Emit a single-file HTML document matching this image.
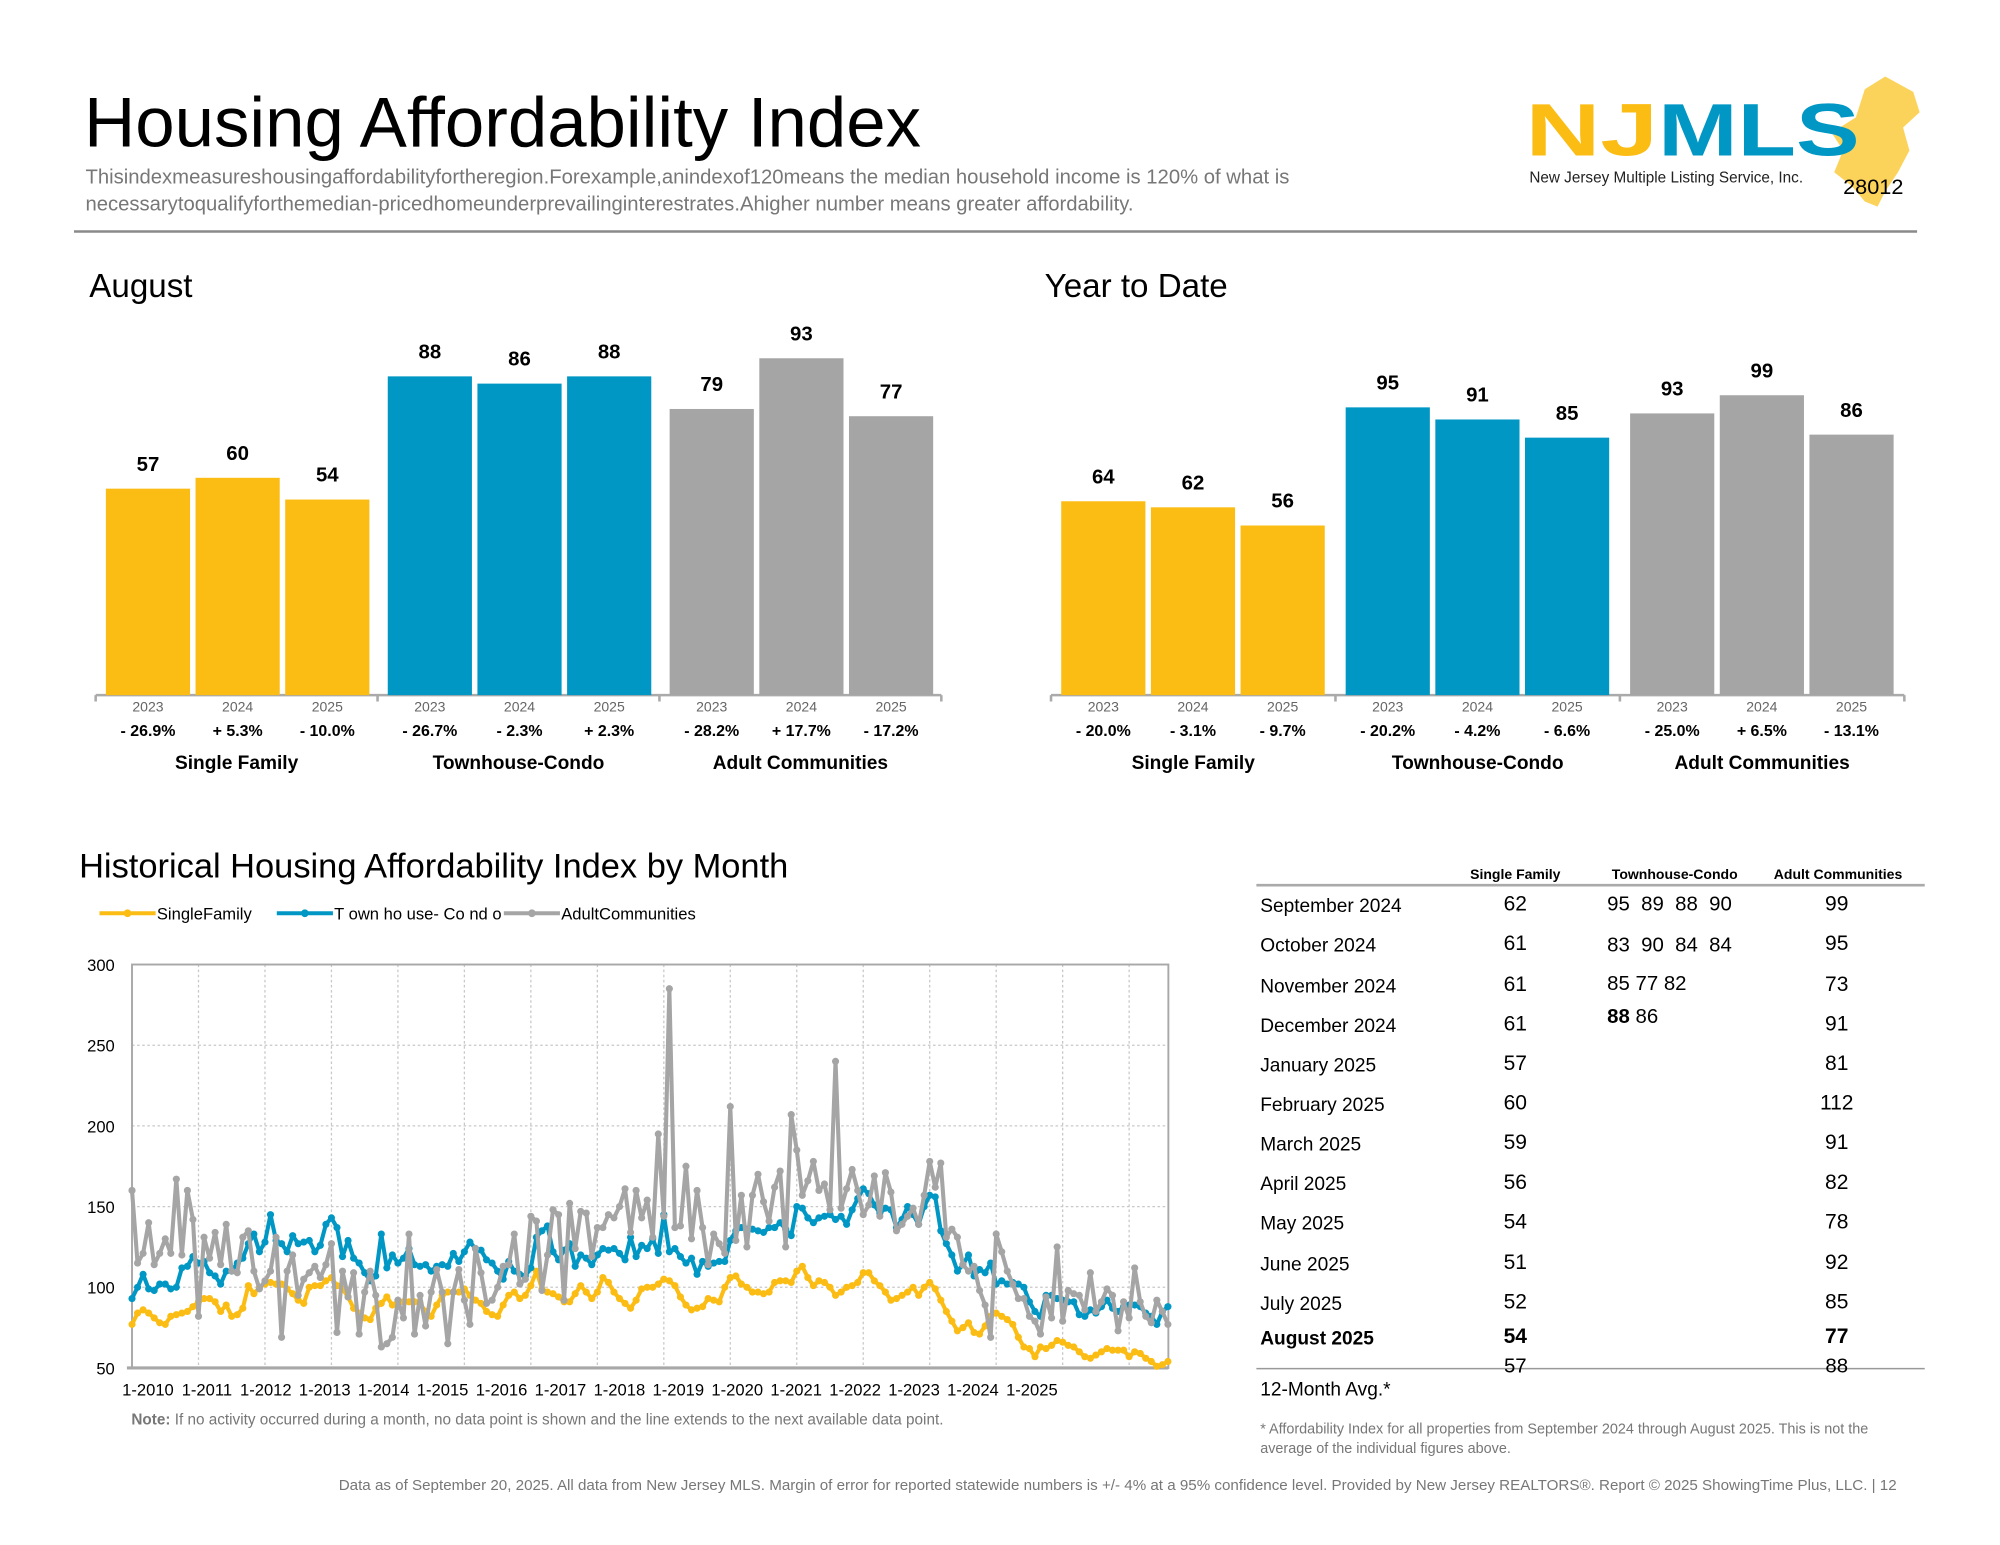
<!DOCTYPE html>
<html><head><meta charset="utf-8"><style>
html,body{margin:0;padding:0;background:#fff;}
svg{display:block;font-family:"Liberation Sans",Arial,sans-serif;}
.pre{white-space:pre;}
</style></head><body>
<svg id="root" width="2000" height="1545" viewBox="0 0 1568 1211.3" preserveAspectRatio="none" xmlns="http://www.w3.org/2000/svg">
<g>
<text x="66" y="115" font-size="55.5" fill="#000">Housing Affordability Index</text>
<text x="67" y="144" font-size="15.9" fill="#777">Thisindexmeasureshousingaffordabilityfortheregion.Forexample,anindexof120means the median household income is 120% of what is</text>
<text x="67" y="165" font-size="15.9" fill="#777">necessarytoqualifyforthemedian-pricedhomeunderprevailinginterestrates.Ahigher number means greater affordability.</text>
<line x1="58" y1="181.5" x2="1503" y2="181.5" stroke="#8a8a8a" stroke-width="2"/>
</g>
<g>
<polygon points="1478,60 1500,72 1505,88 1492,100 1497,118 1488,135 1478,150 1472,162 1462,158 1452,146 1438,135 1445,118 1436,104 1455,92 1462,70" fill="#fcd35a"/>
<text x="1196" y="122" font-size="58" font-weight="bold" fill="#fbbc14" textLength="104" lengthAdjust="spacingAndGlyphs">NJ</text>
<text x="1300" y="122" font-size="58" font-weight="bold" fill="#0097c4" textLength="158" lengthAdjust="spacingAndGlyphs">MLS</text>
<text x="1199" y="143" font-size="12" fill="#222">New Jersey Multiple Listing Service, Inc.</text>
<text x="1445" y="152" font-size="17" fill="#000">28012</text>
</g>
<g id="aug">
<text x="70" y="233" font-size="26" fill="#000">August</text>
</g>
<g id="ytd">
<text x="819" y="233" font-size="26" fill="#000">Year to Date</text>
</g>
<g id="hist">
<text x="62" y="688" font-size="27" fill="#000">Historical Housing Affordability Index by Month</text>
</g>
<g id="tbl">
<text x="1188" y="689" font-size="11" font-weight="bold" text-anchor="middle">Single Family</text>
<text x="1313" y="689" font-size="11" font-weight="bold" text-anchor="middle">Townhouse-Condo</text>
<text x="1441" y="689" font-size="11" font-weight="bold" text-anchor="middle">Adult Communities</text>
<line x1="985" y1="694" x2="1509" y2="694" stroke="#aaa" stroke-width="2"/>
<line x1="985" y1="1073" x2="1509" y2="1073" stroke="#999" stroke-width="1.2"/>
<text class="pre" x="1260" y="714" font-size="16">95  89  88  90</text>
<text class="pre" x="1260" y="746" font-size="16">83  90  84  84</text>
<text x="1260" y="776" font-size="16">85 77 82</text>
<text x="1260" y="802" font-size="16"><tspan font-weight="bold">88</tspan> 86</text>
<text x="988" y="1094" font-size="15">12-Month Avg.*</text>
<text x="1188" y="1076" font-size="16" text-anchor="middle">57</text>
<text x="1440" y="1076" font-size="16" text-anchor="middle">88</text>
<text x="988" y="1124" font-size="11.3" fill="#777">* Affordability Index for all properties from September 2024 through August 2025. This is not the</text>
<text x="988" y="1139" font-size="11.3" fill="#777">average of the individual figures above.</text>
</g>
<text x="1487" y="1168" font-size="11.9" fill="#777" text-anchor="end">Data as of September 20, 2025. All data from New Jersey MLS. Margin of error for reported statewide numbers is +/- 4% at a 95% confidence level. Provided by New Jersey REALTORS®. Report © 2025 ShowingTime Plus, LLC. | 12</text>
</svg>
<script>
var NS="http://www.w3.org/2000/svg";
// ---- bar chart data ----
var barYears=["2023","2024","2025"];
var barCategories=["Single Family","Townhouse-Condo","Adult Communities"];
var augValues=[[57,60,54],[88,86,88],[79,93,77]];
var augPct=[["- 26.9%","+ 5.3%","- 10.0%"],["- 26.7%","- 2.3%","+ 2.3%"],["- 28.2%","+ 17.7%","- 17.2%"]];
var ytdValues=[[64,62,56],[95,91,85],[93,99,86]];
var ytdPct=[["- 20.0%","- 3.1%","- 9.7%"],["- 20.2%","- 4.2%","- 6.6%"],["- 25.0%","+ 6.5%","- 13.1%"]];
// ---- line chart data (Jan 2010 - Aug 2025) ----
var singleFamily=[77,84,86,84,81,78,77,82,83,84,85,88,
91,93,93,91,85,89,82,83,87,101,96,100,
102,103,102,102,99,96,92,90,100,101,101,104,
106,101,99,94,87,84,81,80,87,90,94,89,
91,91,91,91,90,85,82,89,95,97,97,97,
99,95,92,90,85,83,82,89,95,97,93,95,
101,110,99,97,96,94,91,91,96,101,97,93,
97,106,103,97,93,90,87,92,99,100,100,102,
105,104,101,94,89,86,87,88,93,92,91,100,
106,107,102,100,97,97,96,97,103,104,104,103,
110,113,106,101,104,103,100,95,97,100,101,103,
109,109,104,101,97,92,93,95,97,100,95,100,
103,99,92,85,79,73,75,78,72,71,76,82,
84,82,80,77,69,63,62,57,63,62,64,67,
66,64,63,60,57,56,58,60,62,61,61,61,
57,60,59,56,54,51,52,54];
var townhouse=[93,100,108,99,98,102,102,99,100,112,113,119,
115,116,109,107,102,110,110,115,118,127,133,122,
128,145,129,127,122,132,127,128,129,122,126,139,
143,137,119,129,118,115,109,104,107,133,112,120,
115,118,124,114,113,114,110,113,114,113,121,116,
122,128,124,123,117,115,110,105,116,110,108,107,
112,131,135,138,122,117,123,127,113,120,118,114,
120,124,123,124,121,117,131,119,126,124,130,121,
145,122,124,119,115,118,108,116,113,115,116,116,
129,135,137,136,136,135,134,137,137,140,136,132,
150,149,143,140,143,144,145,142,144,139,148,155,
161,158,151,146,149,148,137,142,150,145,139,150,
157,156,135,127,120,110,114,120,107,111,109,115,
102,104,102,103,102,100,91,85,82,95,95,93,
92,91,91,83,82,86,84,88,92,87,85,88,
89,89,88,84,82,77,85,88];
var adult=[160,115,121,140,114,121,130,121,167,120,160,142,
82,131,118,134,114,139,110,109,131,135,110,99,
104,110,131,69,110,120,95,105,109,113,106,114,
127,72,110,94,109,71,97,110,95,63,65,69,
92,81,133,71,95,76,97,111,97,65,97,111,
92,77,124,109,90,92,100,113,114,133,102,105,
144,141,98,120,148,145,92,152,124,147,146,119,
137,137,145,143,150,161,134,160,143,154,131,195,
144,285,137,138,175,130,160,137,114,133,127,121,
212,129,157,125,157,170,153,141,162,172,125,207,
185,157,166,178,160,164,148,240,149,161,173,160,
145,151,169,144,171,159,135,139,144,149,139,157,
178,162,177,131,136,131,114,110,113,98,89,69,
133,122,110,102,93,93,82,79,71,94,81,125,
79,98,96,95,86,109,85,91,99,95,73,91,
81,112,91,82,78,92,85,77];
var yTicks=[50,100,150,200,250,300];
var xTickLabels=["1-2010","1-2011","1-2012","1-2013","1-2014","1-2015","1-2016","1-2017","1-2018","1-2019","1-2020","1-2021","1-2022","1-2023","1-2024","1-2025"];
var tableMonths=["September 2024","October 2024","November 2024","December 2024","January 2025","February 2025","March 2025","April 2025","May 2025","June 2025","July 2025","August 2025"];
var tableSingle=[62,61,61,61,57,60,59,56,54,51,52,54];
var tableAdult=[99,95,73,91,81,112,91,82,78,92,85,77];

var colors=["#fbbc14","#0097c4","#a5a5a5"];
function mk(tag,attrs,parent,txt){var e=document.createElementNS(NS,tag);for(var k in attrs)e.setAttribute(k,attrs[k]);if(txt!=null)e.textContent=txt;parent.appendChild(e);return e;}

function barChart(gid,values,pct,x0,axisL,axisR,pxPerUnit,prefix){
  var g=document.getElementById(gid);var base=545;
  function yS(v){return base-v*pxPerUnit;}
  var ax=mk("line",{x1:axisL,y1:base,x2:axisR,y2:base,stroke:"#aaa","stroke-width":2},g);
  
  
  var gw=(axisR-axisL)/3;
  for(var t=0;t<=3;t++){var tk=mk("line",{x1:axisL+t*gw,y1:base,x2:axisL+t*gw,y2:base+5,stroke:"#aaa","stroke-width":2},g);
    
    }
  for(var c=0;c<3;c++){
    for(var i=0;i<3;i++){
      var v=values[c][i];var bx=x0+c*(gw)+i*70.3;
      var r=mk("rect",{x:bx,y:yS(v),width:66,height:v*pxPerUnit,fill:colors[c]},g);
      
      
      var vl=mk("text",{x:bx+33,y:yS(v)-14,"font-size":16,"font-weight":"bold","text-anchor":"middle"},g,String(v));
      
      
      var yl=mk("text",{x:bx+33,y:558,"font-size":11,fill:"#666","text-anchor":"middle"},g,barYears[i]);
      
      
      var pl=mk("text",{x:bx+33,y:577,"font-size":12.5,"font-weight":"bold","text-anchor":"middle"},g,pct[c][i]);
      
      
    }
    var cl=mk("text",{x:axisL+c*gw+gw/2,y:603,"font-size":15,"font-weight":"bold","text-anchor":"middle"},g,barCategories[c]);
    
    
  }
}
barChart("aug",augValues,augPct,83,75,738,2.84,"august");
barChart("ytd",ytdValues,ytdPct,832,824,1493,2.375,"ytd");

(function(){
  var g=document.getElementById("hist");
  var L=103.5,R=916,T=756.2,B=1072.5,dx=4.343;
  function xS(i){return L+i*dx;}
  function yS(v){return B-(v-50)*(B-T)/250;}
  for(var k=0;k<yTicks.length;k++){
    var y=yS(yTicks[k]);
    if(k>0&&k<yTicks.length-1){var gl=mk("line",{x1:L,y1:y,x2:R,y2:y,stroke:"#c8c8c8","stroke-width":1,"stroke-dasharray":"2,2"},g);
      
      }
    var tl=mk("text",{x:90,y:y+5,"font-size":13,"text-anchor":"end"},g,String(yTicks[k]));
    
    
  }
  for(var yr=1;yr<=16;yr++){var x=xS(yr*12);if(x>R-1)break;
    var vg=mk("line",{x1:x,y1:T,x2:x,y2:B,stroke:"#c8c8c8","stroke-width":1,"stroke-dasharray":"2,2"},g);
    
    }
  var fr=mk("rect",{x:L,y:T,width:R-L,height:B-T,fill:"none",stroke:"#a8a8a8","stroke-width":1.5},g);
  
  
  var ax=mk("line",{x1:L-4,y1:B,x2:R,y2:B,stroke:"#a8a8a8","stroke-width":2.5},g);
  
  
  for(var k=0;k<xTickLabels.length;k++){
    var xl=mk("text",{x:116+k*46.2,y:1094,"font-size":13,"text-anchor":"middle"},g,xTickLabels[k]);
    
    
  }
  var series=[singleFamily,townhouse,adult];var names=["single-family","townhouse-condo","adult-communities"];
  for(var s=0;s<3;s++){
    var d="";var data=series[s];
    for(var i=0;i<data.length;i++){d+=(i?"L":"M")+xS(i).toFixed(2)+","+yS(data[i]).toFixed(2);}
    var p=mk("path",{d:d,fill:"none",stroke:colors[s],"stroke-width":3.2,"stroke-linejoin":"round"},g);
    
    
    for(var i=0;i<data.length;i++){
      var c=mk("circle",{cx:xS(i),cy:yS(data[i]),r:2.8,fill:colors[s]},g);
      
      
    }
  }
  var legLabels=["SingleFamily","T own ho use- Co nd o","AdultCommunities"];
  var legX=[78,217,395];
  for(var s=0;s<3;s++){
    var lg=mk("g",{},g);
    
    
    mk("line",{x1:legX[s],y1:716,x2:legX[s]+44,y2:716,stroke:colors[s],"stroke-width":3.2},lg);
    mk("circle",{cx:legX[s]+22,cy:716,r:3,fill:colors[s]},lg);
    mk("text",{x:legX[s]+45,y:721,"font-size":13},lg,legLabels[s]);
  }
  var nt=mk("text",{x:103,y:1117,"font-size":12,fill:"#777"},g);
  
  
  mk("tspan",{"font-weight":"bold"},nt,"Note:");
  mk("tspan",{},nt,"  If no activity occurred during a month, no data point is shown and the line extends to the next available data point.");
})();

(function(){
  var g=document.getElementById("tbl");
  var rowsY=[714,745,777,808,839,870,901,932,963,995,1026,1053];
  for(var i=0;i<tableMonths.length;i++){
    var bold=(i==tableMonths.length-1)?"bold":"normal";
    var m=mk("text",{x:988,y:rowsY[i]+1,"font-size":15,"font-weight":bold},g,tableMonths[i]);
    
    
    var a=mk("text",{x:1188,y:rowsY[i],"font-size":16.5,"font-weight":bold,"text-anchor":"middle"},g,String(tableSingle[i]));
    
    
    var c=mk("text",{x:1440,y:rowsY[i],"font-size":16.5,"font-weight":bold,"text-anchor":"middle"},g,String(tableAdult[i]));
    
    
  }
})();
</script>
</body></html>
